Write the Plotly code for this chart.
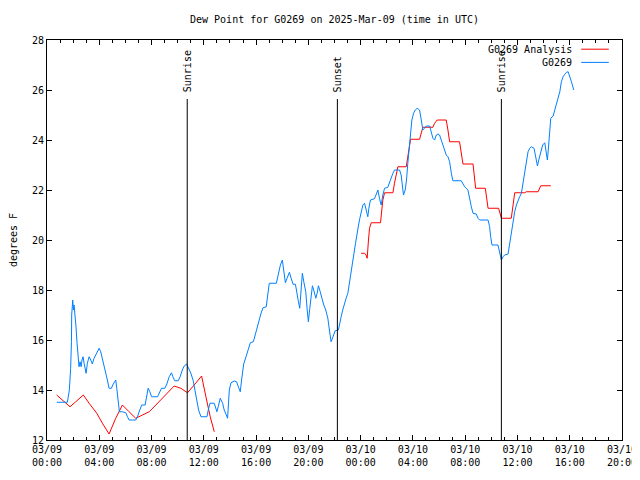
import pandas as pd
import plotly.graph_objects as go

START = pd.Timestamp("2025-03-09 00:00")

# G0269 observations: hours since 2025-03-09 00:00 UTC, dew point (F)
obs_hours = [0.74, 1.56, 1.71, 1.81, 1.87, 1.89, 1.97, 2.02, 2.07, 2.15, 2.22, 2.30, 2.38, 2.45, 2.53, 2.61, 2.68, 2.76, 2.84, 2.91,
             2.99, 3.09, 3.22, 3.35, 3.47, 3.60, 3.73, 3.86, 3.99, 4.11, 4.24, 4.37, 4.50, 4.62, 4.75, 4.93, 5.03, 5.13, 5.26, 5.34,
             5.44, 5.54, 5.77, 6.03, 6.16, 6.28, 6.79, 6.92, 7.10, 7.25, 7.51, 7.64, 7.74, 7.87, 8.00, 8.46, 8.61, 8.76, 9.02, 9.17,
             9.35, 9.53, 9.63, 9.78, 10.04, 10.19, 10.35, 10.50, 10.68, 10.83, 11.01, 11.19, 11.34, 11.44, 11.60, 11.78, 12.24, 12.34, 12.47, 12.80,
             13.00, 13.10, 13.26, 13.44, 13.56, 13.72, 13.82, 13.95, 14.08, 14.33, 14.51, 14.64, 14.79, 14.89, 14.97, 15.05, 15.23, 15.41, 15.56, 15.79,
             15.92, 16.07, 16.20, 16.38, 16.53, 16.78, 16.89, 17.01, 17.55, 17.70, 17.86, 18.01, 18.11, 18.24, 18.37, 18.55, 18.68, 18.83, 19.01, 19.11,
             19.24, 19.34, 19.44, 19.54, 19.65, 19.80, 19.90, 20.00, 20.11, 20.21, 20.31, 20.41, 20.57, 20.67, 20.77, 20.87, 21.03, 21.18, 21.33, 21.49,
             21.61, 21.74, 21.89, 22.05, 22.30, 22.38, 22.51, 22.63, 22.76, 22.89, 23.02, 23.15, 23.27, 23.40, 23.53, 23.61, 23.71, 23.84, 23.94, 24.04,
             24.17, 24.30, 24.42, 24.55, 24.63, 24.75, 25.06, 25.19, 25.32, 25.44, 25.57, 25.70, 25.83, 26.08, 26.21, 26.34, 26.47, 26.59, 26.98, 27.10,
             27.18, 27.28, 27.41, 27.51, 27.61, 27.72, 27.82, 27.92, 28.05, 28.18, 28.33, 28.51, 28.64, 28.76, 28.89, 29.02, 29.28, 29.40, 29.53, 29.66,
             29.79, 29.91, 30.04, 30.17, 30.30, 30.42, 30.55, 30.68, 30.81, 30.94, 31.06, 31.70, 31.83, 31.96, 32.21, 32.34, 32.47, 32.60, 32.85, 32.98,
             33.11, 33.75, 33.87, 33.95, 34.05, 34.51, 34.64, 34.77, 34.90, 35.02, 35.28, 35.41, 35.53, 35.66, 35.79, 35.92, 36.04, 36.17, 36.30, 36.43,
             36.55, 36.68, 36.81, 36.94, 37.07, 37.27, 37.40, 37.53, 37.63, 37.78, 37.93, 38.09, 38.19, 38.29, 38.34, 38.44, 38.55, 38.73, 38.85, 38.98,
             39.11, 39.24, 39.36, 39.49, 39.62, 39.75, 39.88, 40.00, 40.13, 40.31]
obs_dewpt = [13.51, 13.51, 14.00, 14.87, 15.93, 17.00, 17.60, 17.20, 17.40, 16.67, 16.53, 15.87, 15.47, 14.93, 15.13, 14.93, 15.20, 15.33, 15.07, 14.93,
             14.67, 15.07, 15.33, 15.20, 15.04, 15.27, 15.40, 15.53, 15.67, 15.53, 15.27, 14.93, 14.67, 14.40, 14.07, 14.07, 14.20, 14.29, 14.40, 14.07,
             13.60, 13.13, 13.13, 13.09, 12.93, 12.80, 12.80, 12.93, 13.20, 13.40, 13.40, 13.80, 14.07, 13.93, 13.73, 13.73, 13.87, 14.07, 14.07, 14.24,
             14.53, 14.69, 14.53, 14.37, 14.37, 14.53, 14.80, 14.96, 15.04, 14.87, 14.67, 14.37, 13.93, 13.60, 13.20, 12.93, 12.93, 13.20, 13.47, 13.47,
             13.13, 13.33, 13.67, 13.47, 13.20, 13.00, 12.87, 14.00, 14.29, 14.36, 14.33, 14.13, 13.93, 14.40, 14.73, 15.04, 15.33, 15.67, 15.89, 15.93,
             16.20, 16.47, 16.80, 17.07, 17.29, 17.33, 17.80, 18.27, 18.27, 18.60, 19.00, 19.20, 18.80, 18.29, 18.47, 18.71, 18.47, 18.23, 18.23, 17.87,
             17.53, 17.27, 18.00, 18.67, 18.33, 17.93, 17.27, 16.73, 17.27, 17.80, 18.17, 18.00, 17.67, 17.87, 18.17, 18.00, 17.67, 17.40, 17.20, 16.87,
             16.40, 15.93, 16.13, 16.37, 16.40, 16.67, 16.93, 17.20, 17.47, 17.67, 17.87, 18.27, 18.73, 19.13, 19.60, 19.87, 20.27, 20.60, 20.87, 21.13,
             21.40, 21.47, 21.20, 20.93, 21.27, 21.60, 21.65, 21.87, 22.00, 21.67, 21.40, 21.80, 22.07, 22.11, 22.33, 22.47, 22.67, 22.80, 22.80, 22.60,
             22.27, 21.80, 22.00, 22.40, 23.07, 23.73, 24.40, 24.80, 25.07, 25.20, 25.27, 25.20, 24.80, 24.40, 24.47, 24.56, 24.56, 24.33, 24.07, 24.00,
             24.20, 24.24, 24.20, 24.00, 23.80, 23.67, 23.40, 23.33, 23.13, 22.67, 22.37, 22.37, 22.27, 22.13, 22.00, 21.60, 21.33, 21.07, 21.04, 20.87,
             20.80, 20.80, 20.53, 20.13, 19.80, 19.80, 19.47, 19.20, 19.33, 19.40, 19.44, 19.87, 20.40, 20.80, 21.13, 21.40, 21.60, 21.73, 21.87, 22.27,
             22.67, 23.20, 23.53, 23.67, 23.73, 23.67, 23.33, 22.96, 23.20, 23.47, 23.80, 23.89, 23.60, 23.20, 23.47, 24.00, 24.87, 24.96, 25.20, 25.47,
             25.73, 25.93, 26.33, 26.53, 26.63, 26.71, 26.73, 26.56, 26.33, 26.00]

# G0269 Analysis (first segment, then gap, then second segment)
ana1_hours = [0.74, 1.30, 1.76, 2.20, 2.78, 3.22, 3.81, 4.24, 4.75, 5.26, 5.77, 6.28, 6.79, 7.31, 7.82, 8.33, 8.97, 9.73, 10.24, 10.75,
              11.26, 11.83, 12.16, 12.49, 12.80]
ana1_dewpt = [13.80, 13.53, 13.33, 13.53, 13.80, 13.47, 13.07, 12.67, 12.24, 12.87, 13.40, 13.13, 12.87, 13.00, 13.13, 13.40, 13.73, 14.16, 14.07, 13.89,
              14.20, 14.56, 13.73, 12.93, 12.33]
ana2_hours = [24.04, 24.30, 24.42, 24.50, 24.60, 24.68, 24.81, 25.52, 25.62, 25.70, 25.83, 26.47, 26.59, 26.72, 26.85, 27.49, 27.61, 27.74, 27.82, 28.51,
              28.64, 28.76, 29.53, 29.66, 29.86, 30.55, 30.68, 30.81, 31.57, 31.70, 31.83, 32.60, 32.72, 32.80, 33.54, 33.62, 33.75, 34.56, 34.64, 34.77,
              35.53, 35.66, 35.79, 36.55, 36.68, 37.58, 37.78, 38.55]
ana2_dewpt = [19.47, 19.47, 19.40, 19.27, 20.00, 20.47, 20.69, 20.69, 21.20, 21.60, 21.89, 21.89, 22.27, 22.67, 22.93, 22.93, 23.33, 23.73, 24.03, 24.03,
              24.27, 24.51, 24.51, 24.67, 24.80, 24.80, 24.40, 23.93, 23.93, 23.40, 23.04, 23.04, 22.51, 22.07, 22.07, 21.67, 21.27, 21.27, 21.07, 20.87,
              20.87, 21.47, 21.89, 21.89, 21.93, 21.93, 22.17, 22.17]

event_names = ["Sunrise", "Sunset", "Sunrise"]
event_hours = [10.73, 22.22, 34.77]
event_line_top = 25.64

BLUE = "#0080ff"
RED = "#ff0000"
FONT = "DejaVu Sans Mono"


def to_time(hours):
    return START + pd.to_timedelta(pd.Series(hours), unit="h")


fig = go.Figure()
ana_hours = ana1_hours + [None] + ana2_hours
ana_dewpt = ana1_dewpt + [None] + ana2_dewpt
ana_t = [None if h is None else START + pd.Timedelta(hours=h) for h in ana_hours]
fig.add_trace(go.Scatter(x=ana_t, y=ana_dewpt, mode="lines", name="G0269 Analysis",
                         line=dict(color=RED, width=1), connectgaps=False))
fig.add_trace(go.Scatter(x=to_time(obs_hours), y=obs_dewpt, mode="lines", name="G0269",
                         line=dict(color=BLUE, width=1)))

for name, h in zip(event_names, event_hours):
    t = START + pd.Timedelta(hours=h)
    fig.add_shape(type="line", x0=t, x1=t, y0=12, y1=event_line_top, xref="x", yref="y",
                  line=dict(color="black", width=1))
    fig.add_annotation(x=t, y=event_line_top + 0.2, xref="x", yref="y", text=name, textangle=-90,
                       showarrow=False, xanchor="center", yanchor="bottom",
                       font=dict(family=FONT, size=10, color="black"))

# gnuplot-style legend (text right, sample line after)
legend_rows = [("G0269 Analysis", RED, 0.977), ("G0269", BLUE, 0.944)]
for label, color, yy in legend_rows:
    fig.add_annotation(x=0.9165, y=yy, xref="paper", yref="paper", text=label, showarrow=False,
                       xanchor="right", yanchor="middle", font=dict(family=FONT, size=10, color="black"))
    fig.add_shape(type="line", x0=0.929, x1=0.977, y0=yy, y1=yy, xref="paper", yref="paper",
                  line=dict(color=color, width=1))

# page body has an 8px margin, so the figure is sized/offset to land the frame at the reference position
fig.update_layout(
    width=632, height=472,
    margin=dict(l=39, r=18, t=32, b=40, autoexpand=False),
    paper_bgcolor="white", plot_bgcolor="white",
    showlegend=False,
    font=dict(family=FONT, size=10, color="black"),
    title=dict(text="Dew Point for G0269 on 2025-Mar-09 (time in UTC)", x=0.5, xref="paper",
               xanchor="center", y=0.975, yanchor="middle", font=dict(family=FONT, size=10)),
)
fig.update_xaxes(
    type="date", automargin=False, ticklabeloverflow="allow",
    range=[START, START + pd.Timedelta(hours=44)],
    dtick=4 * 3600 * 1000, tick0=START,
    tickformat="%m/%d<br>%H:%M",
    ticks="inside", ticklen=5, tickcolor="black",
    minor=dict(ticks="inside", ticklen=3, dtick=3600 * 1000, tickcolor="black"),
    showline=True, linecolor="black", linewidth=1, mirror="allticks",
    showgrid=False, zeroline=False,
    tickfont=dict(family=FONT, size=10),
)
fig.update_yaxes(
    range=[12, 28], dtick=2, automargin=False,
    ticks="inside", ticklen=5, tickcolor="black",
    showline=True, linecolor="black", linewidth=1, mirror="allticks",
    showgrid=False, zeroline=False,
    title=dict(text="degrees F", standoff=14, font=dict(family=FONT, size=10)),
    tickfont=dict(family=FONT, size=10),
)

fig.write_html("out.html")
